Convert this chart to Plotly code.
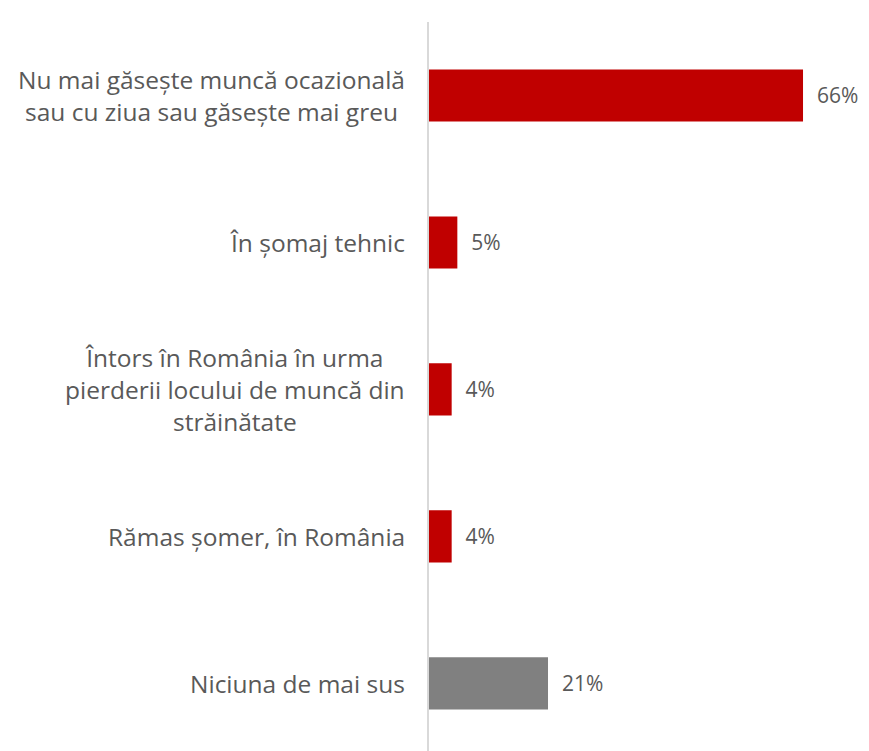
import plotly.graph_objects as go

categories = [
    "Nu mai găsește muncă ocazională<br>sau cu ziua sau găsește mai greu",
    "În șomaj tehnic",
    "Întors în România în urma<br>pierderii locului de muncă din<br>străinătate",
    "Rămas șomer, în România",
    "Niciuna de mai sus",
]
values = [66, 5, 4, 4, 21]
colors = ["#C00000", "#C00000", "#C00000", "#C00000", "#808080"]

OFF = 8  # page body margin compensation

fig = go.Figure(go.Bar(
    x=values, y=categories, orientation="h",
    marker=dict(color=colors, line=dict(width=0)),
    text=[f"{v}%" for v in values],
    texttemplate="  %{text}",
    textposition="outside",
    textfont=dict(family="Open Sans", size=21, color="#595959"),
    cliponaxis=False,
    width=0.355,
))

for cat in categories:
    fig.add_annotation(
        x=0, y=cat, xref="x", yref="y",
        text=cat, showarrow=False,
        xanchor="right", yanchor="middle", align="center",
        xshift=-22,
        font=dict(family="Open Sans", size=24.5, color="#595959"),
    )

fig.update_layout(
    width=869 - OFF, height=751 - OFF,
    margin=dict(l=429 - OFF, r=0, t=22 - OFF, b=0),
    plot_bgcolor="white", paper_bgcolor="white",
    showlegend=False,
    font=dict(family="Open Sans", color="#595959"),
    xaxis=dict(range=[0, (869 - 429) / 5.667], visible=False, fixedrange=True),
    yaxis=dict(
        type="category",
        range=[4.46, -0.5],
        showline=True, linecolor="#D9D9D9", linewidth=2,
        showgrid=False, zeroline=False,
        ticks="", showticklabels=False,
    ),
)

fig.write_html("out.html")
